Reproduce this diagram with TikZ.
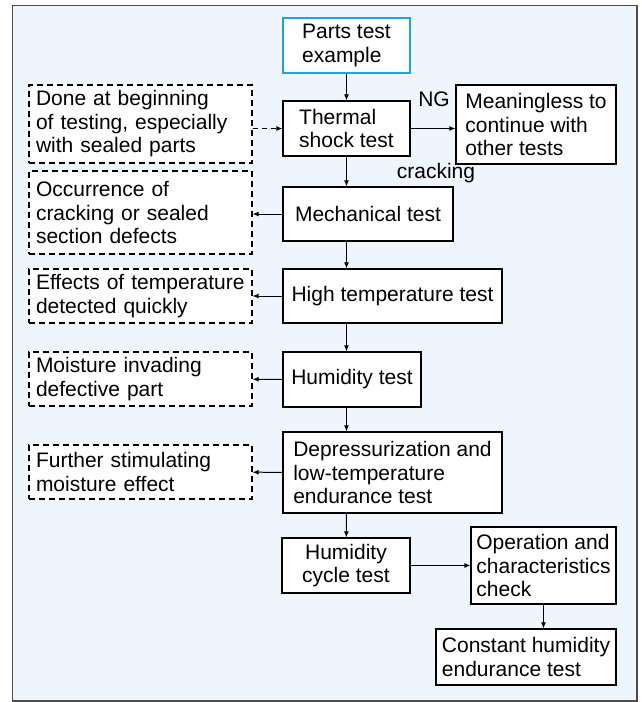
\documentclass[tikz,border=0pt]{standalone}
\usepackage{fontspec}
\setmainfont{Liberation Sans}
\usetikzlibrary{arrows.meta}

\definecolor{panelblue}{HTML}{EEF5FC}
\definecolor{startcyan}{HTML}{1AA7E0}

\begin{document}
\begin{tikzpicture}[x=1pt,y=-1pt,
    font=\fontsize{21}{23.5}\selectfont,
    line/.style={draw, -{Latex[length=6pt,width=5pt]}, line width=1pt},
    test/.style={draw, fill=white, line width=1.3pt, align=left, inner sep=3pt},
    note/.style={test, dash pattern=on 6pt off 4pt, text width=209pt, inner xsep=7pt},
    start/.style={test, draw=startcyan, line width=2pt},
    ]
    \useasboundingbox (0,0) rectangle (642,702);
    \draw [fill=panelblue, draw=black!70, line width=1.4pt] (12.5,5.5) rectangle (637,701);

    % Place nodes
    \node [start, minimum width=127pt, minimum height=55pt] (pte) at (346.5,45.5) {Parts test\\example};
    \node [test, minimum width=127pt, minimum height=55pt] (tst) at (346.5,128.5) {Thermal\\shock test};
    \node [test, minimum width=160pt, minimum height=79pt] (ng) at (536,124.5) {Meaningless to\\continue with\\other tests};
    \node [test, minimum width=170pt, minimum height=54pt] (mech) at (368,214) {Mechanical test};
    \node [test, minimum width=219pt, minimum height=54pt] (high) at (392.5,296) {High temperature test};
    \node [test, minimum width=138pt, minimum height=55pt] (hum) at (352,379.5) {Humidity test};
    \node [test, minimum width=219pt, minimum height=81pt] (dep) at (392.5,472.5) {Depressurization and\\low-temperature\\endurance test};
    \node [test, minimum width=128pt, minimum height=55pt, align=center] (cyc) at (346,565.5) {Humidity\\cycle test};
    \node [test, minimum width=145pt, minimum height=77pt] (op) at (543.5,565.5) {Operation and\\characteristics\\check};
    \node [test, minimum width=180pt, minimum height=56pt] (con) at (526,657) {Constant humidity\\endurance test};

    % Notes on the left
    \node [note, minimum height=78pt] (done) at (140.5,124) {Done at beginning\\of testing, especially\\with sealed parts};
    \node [note, minimum height=83pt] (occ) at (140.5,212.5) {Occurrence of\\cracking or sealed\\section defects};
    \node [note, minimum height=54pt] (eff) at (140.5,296) {Effects of temperature\\detected quickly};
    \node [note, minimum height=54pt] (moi) at (140.5,379) {Moisture invading\\defective part};
    \node [note, minimum height=54pt] (fur) at (140.5,472) {Further stimulating\\moisture effect};

    % Labels
    \node (ngl) at (434,99) {NG};
    \node (crk) at (436,173) {cracking};

    % Draw edges
    \path [line] (pte) -- (tst);
    \path [line] (tst) -- (tst.south |- mech.north);
    \path [line] (mech.south -| tst) -- (high.north -| tst);
    \path [line] (high.south -| tst) -- (hum.north -| tst);
    \path [line] (hum.south -| tst) -- (dep.north -| tst);
    \path [line] (dep.south -| tst) -- (cyc);
    \path [line] (tst) -- (tst -| ng.west);
    \path [line, dash pattern=on 5pt off 4pt] (tst.west -| done.east) -- (tst.west);
    \path [line] (mech) -- (mech.west -| occ.east);
    \path [line] (high) -- (eff);
    \path [line] (hum) -- (moi);
    \path [line] (dep) -- (fur);
    \path [line] (cyc) -- (op);
    \path [line] (op) -- (op.south |- con.north);
  \end{tikzpicture}
\end{document}
